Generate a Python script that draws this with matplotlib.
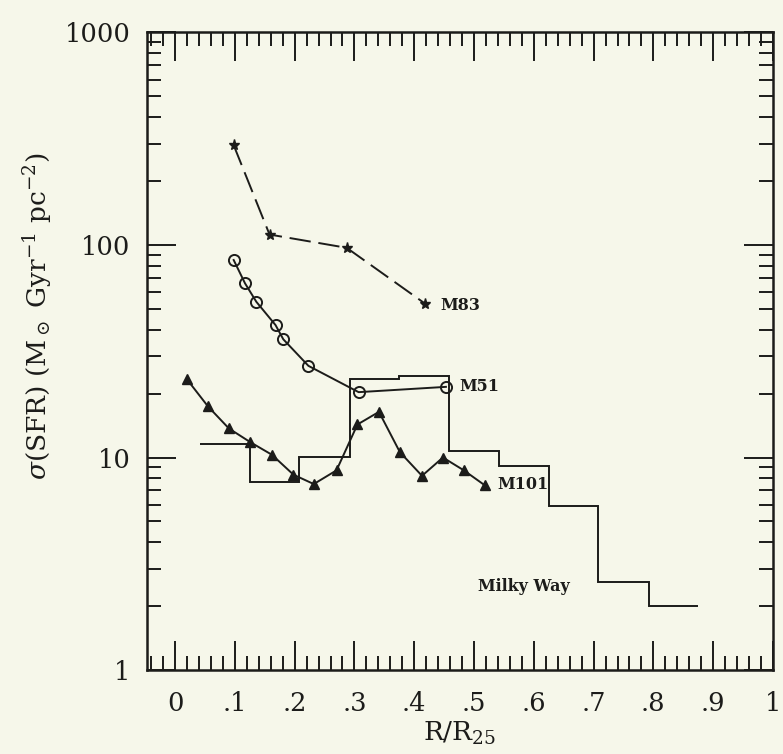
import numpy as np
import matplotlib
matplotlib.use("Agg")
import matplotlib.pyplot as plt
from matplotlib.ticker import FixedLocator, NullFormatter, LogLocator

# star formation rate surface density vs R/R25
m83_r = [0.098, 0.158, 0.287, 0.418]
m83_sfr = [295, 112, 97, 53]

m51_r = [0.098, 0.117, 0.136, 0.168, 0.181, 0.223, 0.307, 0.453]
m51_sfr = [85, 66, 54, 42, 36, 27, 20.3, 21.5]

m101_r = [0.020, 0.055, 0.090, 0.126, 0.162, 0.198, 0.232, 0.270,
          0.305, 0.341, 0.376, 0.413, 0.448, 0.483, 0.518]
m101_sfr = [23.3, 17.4, 13.7, 11.8, 10.3, 8.3, 7.5, 8.7,
            14.3, 16.4, 10.6, 8.2, 10.0, 8.7, 7.4]

# Milky Way binned profile (bin edges in R/R25)
mw_edges = [0.042, 0.125, 0.208, 0.292, 0.375, 0.458, 0.542, 0.625, 0.708, 0.792, 0.875]
mw_sfr = [11.6, 7.7, 10.1, 23.4, 24.2, 10.7, 9.1, 5.9, 2.6, 2.0]

x_major = [0, 0.1, 0.2, 0.3, 0.4, 0.5, 0.6, 0.7, 0.8, 0.9, 1.0]
x_labels = ['0', '.1', '.2', '.3', '.4', '.5', '.6', '.7', '.8', '.9', '1']
y_major = [1, 10, 100, 1000]
y_labels = ['1', '10', '100', '1000']

ink = '#1c1c1a'
paper = '#f6f7ea'

plt.rcParams['mathtext.fontset'] = 'dejavuserif'
plt.rcParams['font.family'] = 'DejaVu Serif'

fig = plt.figure(figsize=(7.83, 7.54), dpi=100, facecolor=paper)
ax = fig.add_axes([0.1877, 0.1114, 0.7995, 0.8455])
ax.set_facecolor(paper)

ax.plot(m83_r, m83_sfr, color=ink, lw=1.4, dashes=(11, 4),
        marker='*', ms=8, mfc=ink, mec=ink)
ax.plot(m51_r, m51_sfr, color=ink, lw=1.4, marker='o', ms=8,
        mfc='none', mec=ink, mew=1.4)
ax.plot(m101_r, m101_sfr, color=ink, lw=1.4, marker='^', ms=7,
        mfc=ink, mec=ink)
ax.stairs(mw_sfr, mw_edges, baseline=None, color=ink, lw=1.4)

lab = dict(fontsize=11.5, fontweight='bold', color=ink, va='center', ha='left')
ax.text(0.444, 52, 'M83', **lab)
ax.text(0.475, 21.5, 'M51', **lab)
ax.text(0.539, 7.45, 'M101', **lab)
ax.text(0.506, 2.47, 'Milky Way', **lab)

ax.set_yscale('log')
ax.set_ylim(1, 1000)
ax.set_xlim(-0.047, 1.0)

ax.xaxis.set_major_locator(FixedLocator(x_major))
ax.set_xticklabels(x_labels)
ax.xaxis.set_minor_locator(FixedLocator(np.round(np.arange(-0.04, 1.0, 0.02), 2)))
ax.yaxis.set_major_locator(FixedLocator(y_major))
ax.set_yticklabels(y_labels)
ax.yaxis.set_minor_locator(LogLocator(base=10, subs=np.arange(2, 10)))
ax.yaxis.set_minor_formatter(NullFormatter())

ax.tick_params(which='both', direction='in', top=True, right=True,
               color=ink, width=1.4, labelcolor=ink, labelsize=18.5)
ax.tick_params(which='major', length=21)
ax.tick_params(which='minor', length=10)
ax.tick_params(axis='x', pad=15)
ax.tick_params(axis='y', pad=12)

for s in ax.spines.values():
    s.set_linewidth(1.8)
    s.set_color(ink)

ax.set_xlabel(r'R/R$_{25}$', fontsize=19, color=ink, labelpad=3)
ax.set_ylabel(r'$\sigma$(SFR) (M$_\odot$ Gyr$^{-1}$ pc$^{-2}$)',
              fontsize=19, color=ink)
ax.yaxis.set_label_coords(-0.148, 0.555)

fig.savefig('out.png', dpi=100, facecolor=paper)
